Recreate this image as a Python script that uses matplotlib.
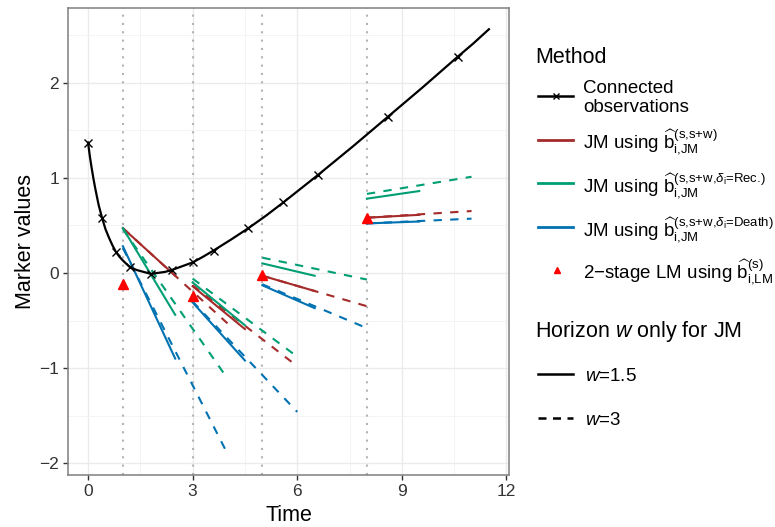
import matplotlib
matplotlib.use("Agg")
import matplotlib.pyplot as plt
from matplotlib.lines import Line2D
from matplotlib.ticker import MultipleLocator

plt.rcParams["font.family"] = ["Liberation Sans", "DejaVu Sans"]
plt.rcParams["mathtext.fontset"] = "custom"
plt.rcParams["mathtext.rm"] = "Liberation Sans"
plt.rcParams["mathtext.it"] = "Liberation Sans:italic"
plt.rcParams["mathtext.bf"] = "Liberation Sans:bold"

# ---- data -------------------------------------------------------------
# observed marker values of the subject
obs_time = [0, 0.4, 0.8, 1.2, 1.8, 2.4, 3.0, 3.6, 4.6, 5.6, 6.6, 8.6, 10.6]
obs_value = [1.37, 0.58, 0.22, 0.06, -0.01, 0.03, 0.11, 0.235, 0.47, 0.74, 1.03, 1.64, 2.27]

# smooth trajectory connecting the observations
curve_time = [0, 0.05, 0.1, 0.15, 0.2, 0.3, 0.4, 0.5, 0.6, 0.7, 0.8, 0.9, 1.0,
              1.2, 1.4, 1.6, 1.8, 2.0, 2.2, 2.4, 2.7, 3.0, 3.3, 3.6, 4.1, 4.6,
              5.1, 5.6, 6.1, 6.6, 7.1, 7.6, 8.1, 8.6, 9.1, 9.6, 10.1, 10.6,
              11.05, 11.5]
curve_value = [1.37, 1.23, 1.11, 1.00, 0.90, 0.72, 0.58, 0.46, 0.37, 0.29, 0.22,
               0.17, 0.13, 0.06, 0.03, 0.01, -0.01, 0.0, 0.01, 0.03, 0.07, 0.11,
               0.17, 0.235, 0.35, 0.47, 0.60, 0.74, 0.885, 1.03, 1.18, 1.33,
               1.485, 1.64, 1.795, 1.95, 2.11, 2.27, 2.41, 2.56]

# landmark times s and prediction horizons w
landmarks = [1, 3, 5, 8]
horizons = [1.5, 3]

# 2-stage landmark model predictions at s
lm_value = [-0.12, -0.24, -0.02, 0.58]

# joint-model predicted trajectories: value at s and at s+w
jm_all_start_w15 = [0.47, -0.14, -0.03, 0.58]
jm_all_end_w15 = [-0.03, -0.59, -0.19, 0.61]
jm_all_start_w3 = [0.47, -0.13, -0.03, 0.58]
jm_all_end_w3 = [-0.53, -0.98, -0.35, 0.65]

jm_rec_start_w15 = [0.47, -0.10, 0.10, 0.78]
jm_rec_end_w15 = [-0.44, -0.55, -0.03, 0.86]
jm_rec_start_w3 = [0.46, -0.06, 0.16, 0.83]
jm_rec_end_w3 = [-1.11, -0.88, -0.07, 1.01]

jm_death_start_w15 = [0.28, -0.31, -0.13, 0.52]
jm_death_end_w15 = [-0.90, -0.92, -0.37, 0.54]
jm_death_start_w3 = [0.26, -0.30, -0.12, 0.52]
jm_death_end_w3 = [-1.90, -1.46, -0.58, 0.57]

x_ticks = [0, 3, 6, 9, 12]
y_ticks = [-2, -1, 0, 1, 2]

# ---- styling ----------------------------------------------------------
col_all = "#A52A2A"
col_rec = "#009E73"
col_death = "#0072B2"
col_lm = "#FF0000"
DASH = (0, (4, 4))

W, H = 775, 527
fig = plt.figure(figsize=(W / 100, H / 100), dpi=100)
fig.patch.set_facecolor("white")

px_l, px_r, px_t, px_b = 68, 509, 8, 475
ax = fig.add_axes([px_l / W, 1 - px_b / H, (px_r - px_l) / W, (px_b - px_t) / H])

ax.set_xlim(-0.575, 12.075)
ax.set_ylim(-2.123, 2.783)
ax.set_xticks(x_ticks)
ax.set_yticks(y_ticks)
ax.xaxis.set_minor_locator(MultipleLocator(1.5))
ax.yaxis.set_minor_locator(MultipleLocator(0.5))
ax.grid(which="major", color="#EBEBEB", lw=1.0, zorder=0)
ax.grid(which="minor", color="#F3F3F3", lw=0.6, zorder=0)
ax.set_axisbelow(True)
for sp in ax.spines.values():
    sp.set_color("#7f7f7f")
    sp.set_linewidth(1.1)
ax.tick_params(which="major", direction="out", length=3.5, width=1.0,
               color="#333333", labelcolor="#333333", labelsize=12.5, pad=3)
ax.tick_params(which="minor", length=0)

ax.set_xlabel("Time", fontsize=15.5, labelpad=4)
ax.set_ylabel("Marker values", fontsize=15.5, labelpad=2)

# landmark reference lines
for s in landmarks:
    ax.axvline(s, color="#B3B3B3", lw=1.5, linestyle=(0, (1, 3)), zorder=1)

# observed trajectory
ax.plot(curve_time, curve_value, color="black", lw=1.6, zorder=4)
ax.plot(obs_time, obs_value, linestyle="none", marker="x", color="black",
        ms=6, mew=1.0, zorder=5)

# joint model predictions
series = [
    (col_all, jm_all_start_w15, jm_all_end_w15, jm_all_start_w3, jm_all_end_w3),
    (col_rec, jm_rec_start_w15, jm_rec_end_w15, jm_rec_start_w3, jm_rec_end_w3),
    (col_death, jm_death_start_w15, jm_death_end_w15, jm_death_start_w3, jm_death_end_w3),
]
for col, s15, e15, s3, e3 in series:
    for i, s in enumerate(landmarks):
        ax.plot([s, s + horizons[0]], [s15[i], e15[i]], color=col, lw=1.5, zorder=3)
        ax.plot([s, s + horizons[1]], [s3[i], e3[i]], color=col, lw=1.5,
                linestyle=DASH, zorder=3)

# landmark model predictions
ax.plot(landmarks, lm_value, linestyle="none", marker="^", color=col_lm,
        ms=7.5, zorder=6)

# ---- legend -----------------------------------------------------------
lg = fig.add_axes([0, 0, 1, 1])
lg.set_xlim(0, W)
lg.set_ylim(H, 0)
lg.axis("off")
lg.patch.set_alpha(0)

kx0, kx1, tx = 538, 573, 583
lab_fs = 13.5

lg.text(535, 63, "Method", fontsize=15.5, va="baseline", ha="left")

lg.add_line(Line2D([kx0, kx1], [96, 96], color="black", lw=1.8))
lg.plot([556], [96], marker="x", color="black", ms=5, mew=1.0)
lg.text(tx, 93, "Connected", fontsize=lab_fs, va="baseline")
lg.text(tx, 112, "observations", fontsize=lab_fs, va="baseline")

hat = r"\widehat{\mathrm{b}}"
labels = [
    (col_all, 140, 148,
     r"JM using $" + hat + r"_{\text{i,JM}}^{\text{(s,s+w)}}$"),
    (col_rec, 183, 192,
     r"JM using $" + hat + r"_{\text{i,JM}}^{\text{(s,s+w,}\delta_{\text{i}}\text{=Rec.)}}$"),
    (col_death, 227, 235,
     r"JM using $" + hat + r"_{\text{i,JM}}^{\text{(s,s+w,}\delta_{\text{i}}\text{=Death)}}$"),
]
for col, ky, by, txt in labels:
    lg.add_line(Line2D([kx0, kx1], [ky, ky], color=col, lw=2.0))
    lg.text(tx, by, txt, fontsize=lab_fs, va="baseline")

lg.plot([557], [270], marker="^", color=col_lm, ms=5, linestyle="none")
lg.text(tx, 278, "2\u2212stage LM using $" + hat + r"_{\text{i,LM}}^{\text{(s)}}$",
        fontsize=lab_fs, va="baseline")

lg.text(535, 337, r"Horizon $\mathit{w}$ only for JM", fontsize=15.5, va="baseline")
lg.add_line(Line2D([kx0, kx1], [374, 374], color="black", lw=1.8))
lg.text(tx + 2, 381, r"$\mathit{w}$=1.5", fontsize=lab_fs, va="baseline")
lg.add_line(Line2D([kx0, kx1], [418, 418], color="black", lw=1.8,
                   linestyle=(0, (3.2, 2.6))))
lg.text(tx + 2, 425, r"$\mathit{w}$=3", fontsize=lab_fs, va="baseline")

fig.savefig("out.png", dpi=100, facecolor="white")
